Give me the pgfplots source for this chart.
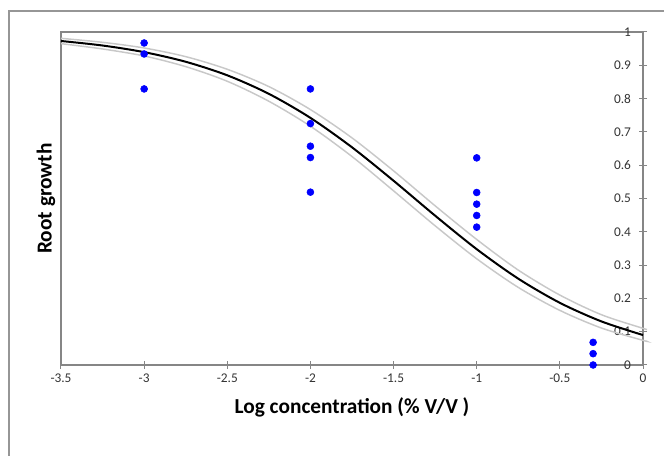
\documentclass[border=0pt]{standalone}
\usepackage{fontspec}
\setmainfont{Carlito}
\usepackage{pgfplots}
\pgfplotsset{compat=1.18}
\definecolor{axgray}{RGB}{134,134,134}
\definecolor{framegray}{RGB}{150,150,150}
\definecolor{bandgray}{RGB}{200,200,200}
\definecolor{ptblue}{RGB}{0,0,255}
\begin{document}
\begin{tikzpicture}
\useasboundingbox (0pt,0pt) rectangle (498pt,342pt);
\draw[color=framegray, line width=0.9pt] (6.75pt,-4pt) -- (6.75pt,333.75pt) -- (503pt,333.75pt);
\begin{axis}[
  at={(45.75pt,68.25pt)}, anchor=south west, scale only axis,
  width=436.5pt, height=249.75pt,
  xmin=-3.5, xmax=0, ymin=0, ymax=1,
  axis line style={axgray, line width=0.9pt},
  xtick={-3.5,-3,-2.5,-2,-1.5,-1,-0.5,0},
  xticklabels={-3.5,-3,-2.5,-2,-1.5,-1,-0.5,0},
  ytick={0,0.1,0.2,0.3,0.4,0.5,0.6,0.7,0.8,0.9,1},
  yticklabels={0,0.1,0.2,0.3,0.4,0.5,0.6,0.7,0.8,0.9,1},
  xtick pos=bottom, ytick pos=right, yticklabel pos=right,
  yticklabel style={anchor=east, xshift=-8.5pt},
  tick align=center, major tick length=6pt,
  tick style={axgray, line width=0.75pt},
  ticklabel style={font=\fontsize{10}{12}\selectfont, text=black!80},
  xlabel={\textbf{Log concentration (\% V/V )}},
  ylabel={\textbf{Root growth}},
  label style={font=\fontsize{16}{19}\selectfont},
  xlabel style={at={(axis description cs:0.5,0)}, anchor=center, yshift=-32pt},
  ylabel style={at={(axis description cs:0,0.5)}, anchor=center, yshift=11.25pt},
  clip=false,
]
\addplot[bandgray, line width=1.1pt, smooth] coordinates {
(-3.5,0.981) (-3.25,0.969) (-3.0,0.952) (-2.75,0.926) (-2.5,0.888)
(-2.25,0.836) (-2.0,0.767) (-1.75,0.682) (-1.5,0.583) (-1.25,0.478)
(-1.0,0.377) (-0.75,0.285) (-0.5,0.210) (-0.25,0.151) (0,0.110) (0.02,0.107)};
\addplot[bandgray, line width=1.1pt, smooth] coordinates {
(-3.5,0.965) (-3.25,0.949) (-3.0,0.928) (-2.75,0.896) (-2.5,0.852)
(-2.25,0.792) (-2.0,0.717) (-1.75,0.626) (-1.5,0.523) (-1.25,0.418)
(-1.0,0.319) (-0.75,0.233) (-0.5,0.164) (-0.25,0.111) (0,0.074) (0.02,0.072)};
\addplot[black, line width=1.5pt, smooth] coordinates {
(-3.5,0.9730) (-3.25,0.9594) (-3.0,0.9395) (-2.75,0.9106) (-2.5,0.8699)
(-2.25,0.8143) (-2.0,0.7421) (-1.75,0.6537) (-1.5,0.5533) (-1.25,0.4484)
(-1.0,0.3478) (-0.75,0.2592) (-0.5,0.1867) (-0.25,0.1309) (0,0.0899)};
\addplot[only marks, mark=*, mark size=2.6pt, ptblue, mark options={draw=ptblue, fill=ptblue}] coordinates {
(-3,0.967) (-3,0.934) (-3,0.829)
(-2,0.829) (-2,0.725) (-2,0.657) (-2,0.623) (-2,0.519)
(-1,0.622) (-1,0.518) (-1,0.483) (-1,0.449) (-1,0.414)
(-0.3,0.068) (-0.3,0.034) (-0.3,0)};
\end{axis}
\end{tikzpicture}
\end{document}
